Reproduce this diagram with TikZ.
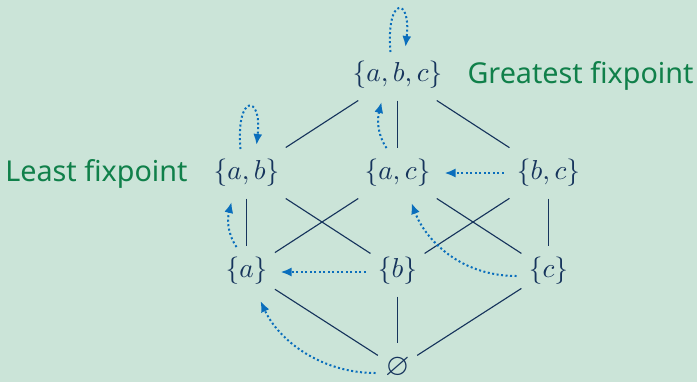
\documentclass[tikz,border=0pt]{standalone}
\usepackage{amssymb}
\usepackage{fontspec}
\newfontfamily\labelfont{Noto Sans}
\usetikzlibrary{arrows.meta}
\definecolor{bg}{RGB}{203,228,216}
\definecolor{navy}{RGB}{22,52,92}
\definecolor{labgreen}{RGB}{16,128,74}
\definecolor{arrowblue}{RGB}{10,110,188}
\begin{document}
\begin{tikzpicture}[x=0.4pt,y=-0.4pt,
  setnode/.style={text=navy, font=\fontsize{11}{13}\selectfont, inner xsep=2.8pt, inner ysep=0pt, minimum height=20pt},
  edge/.style={draw=navy, line width=0.45pt},
  fixarrow/.style={draw=arrowblue, line width=0.8pt, dash pattern=on 0.8pt off 1.0pt,
    -{Latex[length=4.4pt,width=3.6pt]}},
  lab/.style={text=labgreen, font=\labelfont\fontsize{11.5}{13}\selectfont, inner sep=0pt}]
\path[use as bounding box, fill=bg] (0,0) rectangle (697,382);

\node[setnode] (abc) at (397.5,75) {$\{a,b,c\}$};
\node[setnode] (ab) at (246.5,173) {$\{a,b\}$};
\node[setnode] (ac) at (397.5,173) {$\{a,c\}$};
\node[setnode] (bc) at (548.5,173) {$\{b,c\}$};
\node[setnode] (a) at (246.5,271) {$\{a\}$};
\node[setnode] (b) at (397.5,271) {$\{b\}$};
\node[setnode] (c) at (548.5,271) {$\{c\}$};
\node[setnode, font=\fontsize{12.5}{14}\selectfont] (e) at (397.5,368) {$\varnothing$};

\node[lab, anchor=west] (gl) at (467,76) {Greatest fixpoint};
\node[lab, anchor=east] (ll) at (188,174) {Least fixpoint};

\draw[edge] (abc) -- (ab);
\draw[edge] (abc) -- (ac);
\draw[edge] (abc) -- (bc);
\draw[edge] (ab) -- (a);
\draw[edge] (ab) -- (b);
\draw[edge] (ac) -- (a);
\draw[edge] (ac) -- (c);
\draw[edge] (bc) -- (b);
\draw[edge] (bc) -- (c);
\draw[edge] (a) -- (e);
\draw[edge] (b) -- (e);
\draw[edge] (c) -- (e);

% self loops
\draw[fixarrow] ([shift={(-7,-23)}]abc.center) .. controls +(-5,-56) and +(6,-51) .. ([shift={(8,-28)}]abc.center);
\draw[fixarrow] ([shift={(-6,-24)}]ab.center) .. controls +(-5,-56) and +(6,-51) .. ([shift={(10,-28)}]ab.center);
% upward
\draw[fixarrow] ([shift={(-10,-24)}]a.center) .. controls +(-10,-15) and +(-4,16) .. ([shift={(-15,29)}]ab.center);
\draw[fixarrow] ([shift={(-11,-25)}]ac.center) .. controls +(-10,-15) and +(-4,16) .. ([shift={(-16,27)}]abc.center);
% horizontal
\draw[fixarrow] ([shift={(-45,0)}]bc.center) -- ([shift={(47,0)}]ac.center);
\draw[fixarrow] ([shift={(-32,1)}]b.center) -- ([shift={(34,1)}]a.center);
% curved
\draw[fixarrow] ([shift={(-32,5)}]c.center) .. controls +(-56,0) and +(14,37) .. ([shift={(14,30)}]ac.center);
\draw[fixarrow] ([shift={(-22,5)}]e.center) .. controls +(-55,0) and +(18,39) .. ([shift={(14,30)}]a.center);
\end{tikzpicture}
\end{document}
